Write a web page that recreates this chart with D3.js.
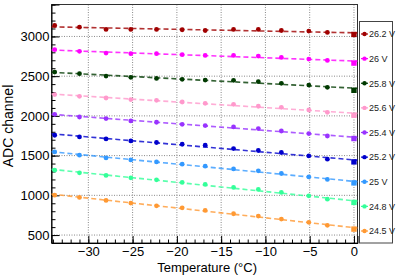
<!DOCTYPE html>
<html>
<head>
<meta charset="utf-8">
<script src="https://cdn.jsdelivr.net/npm/d3@7"></script>
<style>
  body { margin: 0; background: #fff; }
  svg { display: block; font-family: "Liberation Sans", Arial, sans-serif; }
</style>
</head>
<body>
<script>
// temperatures (°C) of the measurements
const TEMPS = [-33.8, -31, -28, -25.2, -22.3, -19.4, -16.8, -13.6, -10.8, -8.2, -5.1, -3.0, 0]

// bias voltage labels, top to bottom
const LABELS = ['26.2 V', '26 V', '25.8 V', '25.6 V', '25.4 V', '25.2 V', '25 V', '24.8 V', '24.5 V']
const COLORS = ['#a00000', '#ff00ff', '#003a00', '#ff99cc', '#9933ff', '#0000cc', '#3399ff', '#33ff99', '#ff9933']

// ADC channel per voltage
const V262 = [3138, 3117, 3088, 3088, 3088, 3084, 3075, 3088, 3088, 3075, 3067, 3050, 3025]
const V260 = [2833, 2812, 2790, 2783, 2783, 2770, 2761, 2761, 2753, 2736, 2715, 2698, 2665]
const V258 = [2551, 2531, 2501, 2485, 2472, 2460, 2451, 2447, 2431, 2410, 2388, 2359, 2322]
const V256 = [2268, 2246, 2225, 2205, 2196, 2175, 2158, 2146, 2121, 2108, 2074, 2045, 2008]
const V254 = [2020, 1986, 1966, 1936, 1920, 1894, 1878, 1861, 1840, 1810, 1777, 1747, 1715]
const V252 = [1756, 1735, 1710, 1685, 1665, 1643, 1631, 1589, 1564, 1539, 1496, 1455, 1421]
const V250 = [1546, 1505, 1471, 1446, 1421, 1392, 1367, 1333, 1308, 1275, 1232, 1200, 1157]
const V248 = [1317, 1283, 1250, 1220, 1195, 1162, 1137, 1099, 1074, 1036, 994, 952, 911]
const V245 = [1002, 974, 936, 902, 868, 843, 810, 768, 739, 701, 660, 622, 575]
const SERIES = [V262, V260, V258, V256, V254, V252, V250, V248, V245]

const X_TICKS = [-30, -25, -20, -15, -10, -5, 0]
const Y_TICKS = [500, 1000, 1500, 2000, 2500, 3000]

const WIDTH = 398
const HEIGHT = 275
const LEFT = 51.5, RIGHT = 357.5, TOP = 4.5, BOTTOM = 243

const svg = d3.select('body').append('svg')
  .attr('width', WIDTH)
  .attr('height', HEIGHT)

const x = d3.scaleLinear().domain([-34.16, 0.4]).range([LEFT, RIGHT])
const y = d3.scaleLinear().domain([400, 3402]).range([BOTTOM, TOP])

// grille pointillée
svg.append('g').selectAll('line').data(X_TICKS).join('line')
  .attr('x1', d => x(d)).attr('x2', d => x(d))
  .attr('y1', TOP).attr('y2', BOTTOM)
  .attr('stroke', '#888').attr('stroke-dasharray', '1,1.5')
svg.append('g').selectAll('line').data(Y_TICKS).join('line')
  .attr('x1', LEFT).attr('x2', RIGHT)
  .attr('y1', d => y(d)).attr('y2', d => y(d))
  .attr('stroke', '#888').attr('stroke-dasharray', '1,1.5')

// frame
svg.append('rect')
  .attr('x', LEFT).attr('y', TOP)
  .attr('width', RIGHT - LEFT).attr('height', BOTTOM - TOP)
  .attr('fill', 'none').attr('stroke', '#333')

// axes with ticks pointing inside
const xAxis = svg.append('g').attr('transform', `translate(0,${BOTTOM})`)
  .call(d3.axisBottom(x).tickValues(d3.range(-34, 1, 1)).tickSize(-3.5).tickFormat(''))
xAxis.select('.domain').remove()
const xMajor = svg.append('g').attr('transform', `translate(0,${BOTTOM})`)
  .call(d3.axisBottom(x).tickValues(X_TICKS).tickSize(-7).tickPadding(4)
    .tickFormat(d => d3.format('d')(d).replace('-', '\u2212')))
xMajor.select('.domain').attr('stroke', '#000')
xMajor.selectAll('text').attr('font-size', 13).attr('fill', '#000').attr('font-family', null)

const yAxis = svg.append('g').attr('transform', `translate(${LEFT},0)`)
  .call(d3.axisLeft(y).tickValues(d3.range(500, 3401, 100)).tickSize(-4).tickFormat(''))
yAxis.select('.domain').remove()
const yMajor = svg.append('g').attr('transform', `translate(${LEFT},0)`)
  .call(d3.axisLeft(y).tickValues(Y_TICKS).tickSize(-8).tickPadding(2).tickFormat(d3.format('d')))
yMajor.select('.domain').attr('stroke', '#000')
yMajor.selectAll('text').attr('font-size', 13).attr('fill', '#000').attr('font-family', null)

// titres des axes
svg.append('text')
  .attr('x', 257).attr('y', 272)
  .attr('text-anchor', 'end').attr('font-size', 13)
  .text('Temperature (°C)')
svg.append('text')
  .attr('transform', 'translate(13,126) rotate(-90)')
  .attr('text-anchor', 'middle').attr('font-size', 14)
  .text('ADC channel')

// ajustement linéaire
function fit(vals) {
  const mx = d3.mean(TEMPS), my = d3.mean(vals)
  const b = d3.sum(TEMPS, (t, i) => (t - mx) * (vals[i] - my)) / d3.sum(TEMPS, t => (t - mx) ** 2)
  return t => my + b * (t - mx)
}

SERIES.forEach((vals, k) => {
  const f = fit(vals)
  const g = svg.append('g')
  const [x0, x1] = x.domain()
  g.append('line')
    .attr('x1', x(x0)).attr('y1', y(f(x0)))
    .attr('x2', x(x1)).attr('y2', y(f(x1)))
    .attr('stroke', COLORS[k]).attr('stroke-width', 1.6)
    .attr('stroke-dasharray', '5,3').attr('opacity', 0.8)
  g.selectAll('circle').data(vals.slice(0, -1)).join('circle')
    .attr('cx', (d, i) => x(TEMPS[i]))
    .attr('cy', d => y(d))
    .attr('r', 2.4)
    .attr('fill', COLORS[k])
  const last = vals.length - 1
  g.append('rect')
    .attr('x', x(TEMPS[last]) - 2.7).attr('y', y(vals[last]) - 2.7)
    .attr('width', 5.4).attr('height', 5.4)
    .attr('fill', COLORS[k])
})

// légende
const legend = svg.append('g')
legend.append('rect')
  .attr('x', 359.5).attr('y', 21.5)
  .attr('width', 33).attr('height', 221.5)
  .attr('fill', '#fff').attr('stroke', '#444')
const ly = d3.scalePoint().domain(LABELS).range([34, 231])
LABELS.forEach((lab, k) => {
  legend.append('line')
    .attr('x1', 361).attr('x2', 368)
    .attr('y1', ly(lab)).attr('y2', ly(lab))
    .attr('stroke', COLORS[k]).attr('stroke-width', 1.2)
  legend.append('circle')
    .attr('cx', 364.5).attr('cy', ly(lab)).attr('r', 2.2)
    .attr('fill', COLORS[k])
  legend.append('text')
    .attr('x', 369).attr('y', ly(lab) + 3.3)
    .attr('font-size', 9).attr('fill', '#222')
    .text(lab)
})
</script>
</body>
</html>
